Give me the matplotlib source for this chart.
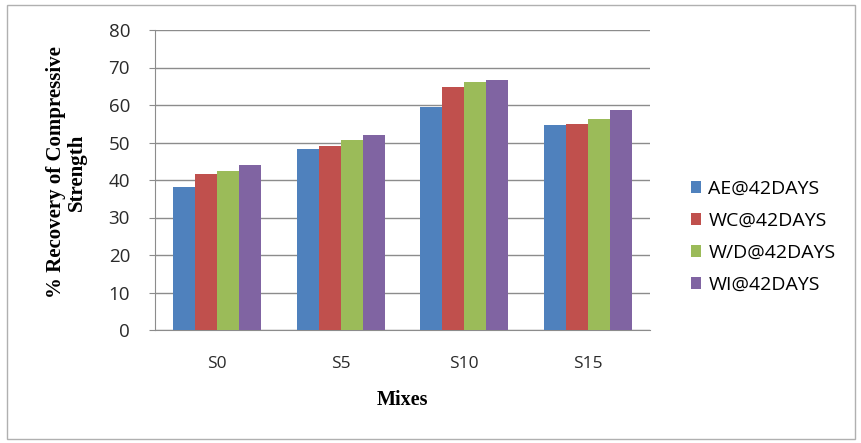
import numpy as np
import matplotlib.pyplot as plt
from matplotlib.patches import Rectangle

# Recovery of compressive strength after 42 days, per mix and exposure
mixes = ["S0", "S5", "S10", "S15"]
series = ["AE@42DAYS", "WC@42DAYS", "W/D@42DAYS", "WI@42DAYS"]
ae = [38.2, 48.3, 59.4, 54.7]
wc = [41.6, 49.1, 64.7, 54.9]
wd = [42.5, 50.7, 66.1, 56.3]
wi = [43.9, 51.9, 66.8, 58.8]
colors = ["#4F81BD", "#C0504D", "#9BBB59", "#8064A2"]

fig = plt.figure(figsize=(8.62, 4.43), dpi=100)
ax = fig.add_axes([155 / 862, 1 - 330 / 443, 495 / 862, 300 / 443])

x = np.arange(len(mixes))
width = 0.178
for i, (vals, name) in enumerate(zip([ae, wc, wd, wi], series)):
    ax.bar(x + (i - 1.5) * width, vals, width, color=colors[i], label=name,
           zorder=3)

ax.set_xlim(-0.5, len(mixes) - 0.5)
ax.set_ylim(0, 80)
ax.set_yticks(range(0, 81, 10))
ax.set_xticks(x)
ax.set_xticklabels(mixes)
ax.yaxis.grid(True, color="#8c8c8c", linewidth=1.0, zorder=0)
for side in ["top", "right"]:
    ax.spines[side].set_visible(False)
ax.spines["left"].set_color("#8c8c8c")
ax.spines["bottom"].set_color("#8c8c8c")
ax.tick_params(axis="y", length=4, color="#8c8c8c", labelsize=13.5, pad=14)
ax.tick_params(axis="x", length=0, labelsize=12.5, pad=19)
for lbl in ax.get_xticklabels() + ax.get_yticklabels():
    lbl.set_family("Open Sans")
    lbl.set_color("#2a2a2a")

ax.set_ylabel("% Recovery of Compressive\nStrength", family="Liberation Serif",
              fontweight="bold", fontsize=15, linespacing=1.1)
ax.yaxis.set_label_coords(-0.137, 0.527)
ax.set_xlabel("Mixes", family="Liberation Serif", fontweight="bold",
              fontsize=14.5, labelpad=13)

leg = ax.legend(loc="center left", bbox_to_anchor=(1.047, 0.31), frameon=False,
                handlelength=0.55, handleheight=0.55, handletextpad=0.35,
                labelspacing=0.72, prop={"family": "Open Sans", "size": 14})

# light frame around the whole chart
fig.patches.append(Rectangle((7 / 862, 4 / 443), 848 / 862, 434 / 443,
                             transform=fig.transFigure, fill=False,
                             edgecolor="#b0b0b0", linewidth=1.0))

fig.savefig("out.png", dpi=100)
